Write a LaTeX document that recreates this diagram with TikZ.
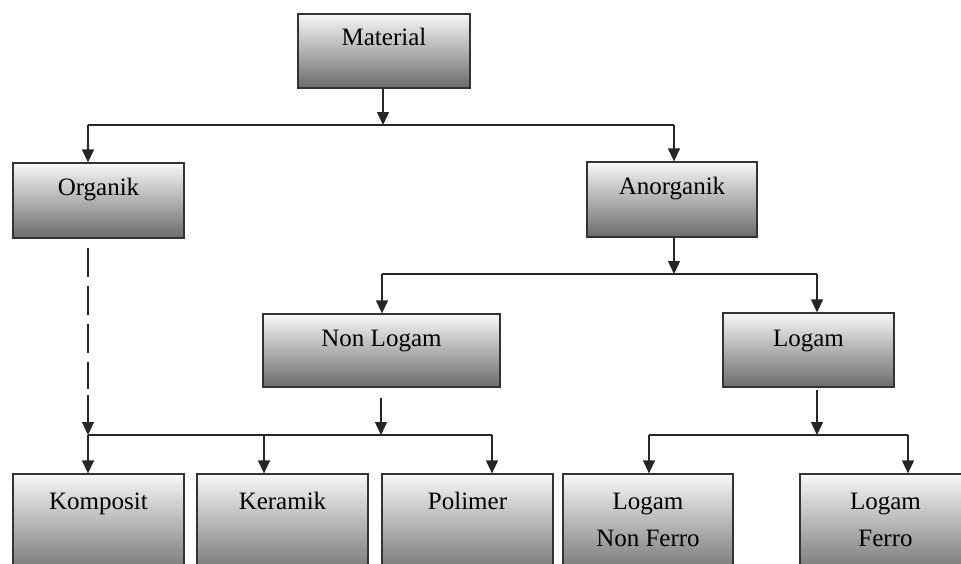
\documentclass[tikz,border=0pt]{standalone}
\usepackage{fontspec}
\setmainfont{Liberation Serif}
\usetikzlibrary{arrows.meta,calc}
\begin{document}
\begin{tikzpicture}[x=1pt,y=-1pt,
  box/.style={draw=black!80, line width=1.3pt, top color=black!3, middle color=black!16, bottom color=black!58,
    inner sep=0pt, font=\fontsize{25}{30}\selectfont, align=center},
  topbox/.style={box, text height=32pt, text depth=43pt},
  botbox/.style={box, text height=35pt, text depth=71pt},
  twobox/.style={box, text height=72pt, text depth=34pt},
  ln/.style={line width=1.3pt, black!85},
  arr/.style={ln, -{Triangle[length=13pt,width=12pt]}}]
\useasboundingbox (0,0) rectangle (961,563);
\clip (0,0) rectangle (961,563);
% boxes
\node[box, text height=31pt, text depth=43pt, minimum width=172pt] (mat) at (384,51) {Material};
\node[topbox, minimum width=171pt] (org) at (98.5,200.5) {Organik};
\node[topbox, minimum width=170pt] (anorg) at (672,199.5) {Anorganik};
\node[box, text height=32pt, text depth=41pt, minimum width=237pt] (nonl) at (381.5,350.5) {Non Logam};
\node[box, text height=33pt, text depth=41pt, minimum width=171pt] (log) at (808.5,350) {Logam};
\node[botbox, minimum width=171pt] (kom) at (98.5,527) {Komposit};
\node[botbox, minimum width=171pt] (ker) at (282.5,527) {Keramik};
\node[botbox, minimum width=171pt] (pol) at (467.5,527) {Polimer};
\node[twobox, minimum width=170pt] (lnf) at (648,527) {Logam\\[7pt]Non Ferro};
\node[twobox, minimum width=171pt] (lf) at (885.5,527) {Logam\\[7pt]Ferro};
% level 1
\coordinate (t0) at (383,125);
\coordinate (tl) at (88,125);
\coordinate (tr) at (674,125);
\draw[arr] (mat.south -| t0) -- (t0);
\draw[ln] (tl) -- (tr);
\draw[arr] (tl) -- (tl |- org.north);
\draw[arr] (tr) -- (tr |- anorg.north);
% level 2
\coordinate (a0) at (674,274);
\coordinate (al) at (382,274);
\coordinate (ar) at (817,274);
\draw[arr] (anorg.south -| a0) -- (a0);
\draw[ln] (al) -- (ar);
\draw[arr] (al) -- (al |- nonl.north);
\draw[arr] (ar) -- (ar |- log.north);
% level 3 left
\coordinate (b0) at (381,435);
\coordinate (bl) at (88,435);
\coordinate (bm) at (264,435);
\coordinate (br) at (492,435);
\coordinate (d1) at (88,389);
\coordinate (d2) at (88,395);
\draw[arr] ($(nonl.south -| b0)+(0,10)$) -- (b0);
\draw[ln, dash pattern=on 29pt off 9pt] ($(org.south -| bl)+(0,9)$) -- (d1);
\draw[arr] (d2) -- (bl);
\draw[ln] (bl) -- (br);
\draw[arr] (bl) -- (bl |- kom.north);
\draw[arr] (bm) -- (bm |- ker.north);
\draw[arr] (br) -- (br |- pol.north);
% level 3 right
\coordinate (c0) at (817,435);
\coordinate (cl) at (649,435);
\coordinate (cr) at (908,435);
\draw[arr] ($(log.south -| c0)+(0,2)$) -- (c0);
\draw[ln] (cl) -- (cr);
\draw[arr] (cl) -- (cl |- lnf.north);
\draw[arr] (cr) -- (cr |- lf.north);
\end{tikzpicture}
\end{document}
